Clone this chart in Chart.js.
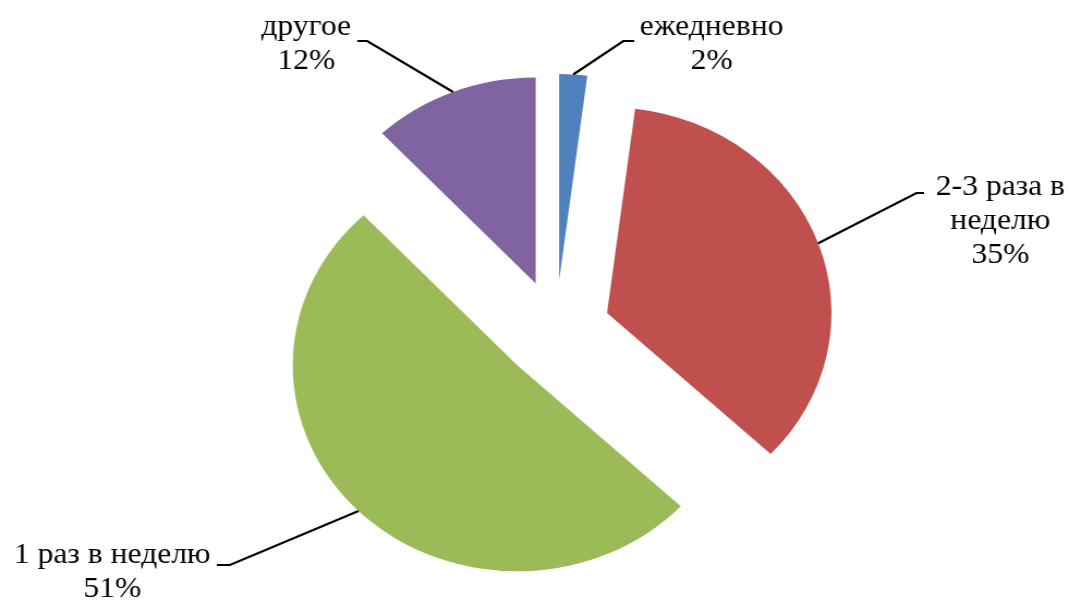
<!DOCTYPE html>
<html><head><meta charset="utf-8">
<script src="https://cdn.jsdelivr.net/npm/chart.js@4.4.1/dist/chart.umd.min.js"></script>
<style>
html,body{margin:0;padding:0;background:#fff;overflow:hidden}
#wrap{position:absolute;left:0;top:0;width:981px;height:600px;transform-origin:0 0;transform:scaleX(1.0897)}
</style></head><body>
<div id="wrap"><canvas id="c"></canvas></div>
<script>
// ---- data ----
const categories = ['ежедневно', '2-3 раза в неделю', '1 раз в неделю', 'другое'];
const labelLines = [['ежедневно'], ['2-3 раза в', 'неделю'], ['1 раз в неделю'], ['другое']];
const percentValues = [2, 35, 51, 12];
const sliceColors = ['#4F81BD', '#C0504D', '#9BBB59', '#8064A2'];

// ---- styling / layout (relative to pie centre) ----
const EXPLODE = 50;
const PIE_RADIUS = 206;
const labelLayout = [
  {elbow: [62, -289], end: [72, -289], textX: 143, baseY: -295},
  {elbow: [331, -137], end: [338, -137], textX: 408, baseY: -135},
  {elbow: [-299, 235], end: [-311, 235], textX: -407, baseY: 233},
  {elbow: [-173, -289], end: [-182, -289], textX: -229, baseY: -295}
];
const LINE_H = 34;
const LABEL_FONT = '29px "Liberation Serif"';

const explodePlugin = {
  id: 'explode',
  afterDatasetUpdate(chart, args) {
    args.meta.data.forEach(arc => {
      const mid = (arc.startAngle + arc.endAngle) / 2;
      arc.x += EXPLODE * Math.cos(mid);
      arc.y += EXPLODE * Math.sin(mid);
    });
  }
};

const labelPlugin = {
  id: 'sliceLabels',
  afterDatasetsDraw(chart) {
    const ctx = chart.ctx;
    const ca = chart.chartArea;
    const cx = (ca.left + ca.right) / 2, cy = (ca.top + ca.bottom) / 2;
    const meta = chart.getDatasetMeta(0);
    ctx.save();
    meta.data.forEach((arc, i) => {
      const L = labelLayout[i];
      const mid = (arc.startAngle + arc.endAngle) / 2;
      const sx = arc.x + arc.outerRadius * Math.cos(mid);
      const sy = arc.y + arc.outerRadius * Math.sin(mid);
      ctx.strokeStyle = '#000';
      ctx.lineWidth = 2.2;
      ctx.beginPath();
      ctx.moveTo(sx, sy);
      ctx.lineTo(cx + L.elbow[0], cy + L.elbow[1]);
      ctx.lineTo(cx + L.end[0], cy + L.end[1]);
      ctx.stroke();
      ctx.fillStyle = '#000';
      ctx.font = LABEL_FONT;
      ctx.textAlign = 'center';
      ctx.textBaseline = 'alphabetic';
      const lines = labelLines[i].concat([percentValues[i] + '%']);
      lines.forEach((t, k) => ctx.fillText(t, cx + L.textX, cy + L.baseY + k * LINE_H));
    });
    ctx.restore();
  }
};

function build() {
  new Chart(document.getElementById('c'), {
    type: 'pie',
    data: {
      labels: categories,
      datasets: [{
        data: percentValues,
        backgroundColor: sliceColors,
        borderWidth: 0,
        radius: PIE_RADIUS
      }]
    },
    options: {
      responsive: true,
      maintainAspectRatio: false,
      animation: false,
      events: [],
      layout: {padding: {top: 100, bottom: 40, left: 100, right: 61}},
      plugins: {legend: {display: false}, tooltip: {enabled: false}}
    },
    plugins: [explodePlugin, labelPlugin]
  });
}
if (document.fonts && document.fonts.load) {
  document.fonts.load(LABEL_FONT, 'ежедневно 12%').then(build, build);
} else {
  build();
}
</script>
</body></html>
